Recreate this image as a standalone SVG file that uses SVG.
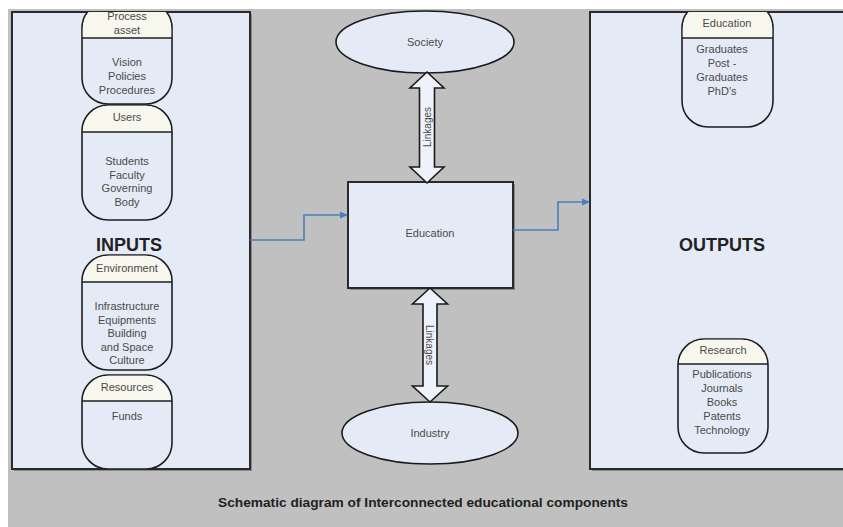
<svg xmlns="http://www.w3.org/2000/svg" width="843" height="527" viewBox="0 0 843 527">
<defs>
<style>
.box{fill:#e5ebf6;stroke:#2a2a2a;stroke-width:2}
.shadow{fill:#8a8a8a}
.pill{fill:#e5ebf6;stroke:#1e1e1e;stroke-width:1.6}
.hdr{fill:#f7f7ee;stroke:none}
.hl{stroke:#1e1e1e;stroke-width:1.6}
.t{font-family:"Liberation Sans",Arial,sans-serif;font-size:11px;fill:#4a4a4a;text-anchor:middle}
.big{font-family:"Liberation Sans",Arial,sans-serif;font-size:18px;font-weight:bold;fill:#222;text-anchor:middle}
.cap{font-family:"Liberation Sans",Arial,sans-serif;font-size:12.5px;font-weight:bold;fill:#222;text-anchor:middle}
.conn{fill:none;stroke:#4a7ebb;stroke-width:1.6}
.dbl{fill:#eef2fa;stroke:#1a1a1a;stroke-width:1.6}
.ell{fill:#e5ebf6;stroke:#1a1a1a;stroke-width:1.6}
</style>
<marker id="ah" markerWidth="8" markerHeight="8" refX="7" refY="4" orient="auto" markerUnits="userSpaceOnUse">
<path d="M0,0.5 L8,4 L0,7.5 Z" fill="#4a7ebb"/>
</marker>
<clipPath id="clipL"><rect x="12" y="12" width="238" height="457"/></clipPath>
<clipPath id="clipR"><rect x="590" y="12" width="260" height="457"/></clipPath>
</defs>
<rect x="0" y="0" width="843" height="527" fill="#ffffff"/>
<rect x="8" y="9" width="835" height="518" fill="#c0c0c0"/>

<g id="inputs">
<rect class="shadow" x="14" y="14" width="238" height="457"/>
<rect class="box" x="12" y="12" width="238" height="457"/>
<text class="big" x="129" y="251">INPUTS</text>
</g>

<g id="outputs">
<rect class="shadow" x="592" y="14" width="260" height="457"/>
<rect class="box" x="590" y="12" width="260" height="457"/>
<text class="big" x="722" y="251">OUTPUTS</text>
</g>

<g clip-path="url(#clipL)">
<g id="process-asset">
<rect class="pill" x="82" y="2" width="90" height="102" rx="26"/>
<path class="hdr" d="M82.8,38 V28 A26,26 0 0 1 108,2.8 H146 A26,26 0 0 1 171.2,28 V38 Z"/>
<line class="hl" x1="82" y1="38" x2="172" y2="38"/>
<text class="t" x="127" y="20">Process</text>
<text class="t" x="127" y="34">asset</text>
<text class="t" x="127" y="66">Vision</text>
<text class="t" x="127" y="80">Policies</text>
<text class="t" x="127" y="94">Procedures</text>
</g>
<g id="users">
<rect class="pill" x="82" y="105" width="90" height="115" rx="26"/>
<path class="hdr" d="M82.8,132 V131 A26,26 0 0 1 108,105.8 H146 A26,26 0 0 1 171.2,131 V132 Z"/>
<line class="hl" x1="82" y1="132" x2="172" y2="132"/>
<text class="t" x="127" y="121">Users</text>
<text class="t" x="127" y="165">Students</text>
<text class="t" x="127" y="178.5">Faculty</text>
<text class="t" x="127" y="192">Governing</text>
<text class="t" x="127" y="205.5">Body</text>
</g>
<g id="environment">
<rect class="pill" x="82" y="255" width="90" height="115" rx="26"/>
<path class="hdr" d="M82.8,282 V281 A26,26 0 0 1 108,255.8 H146 A26,26 0 0 1 171.2,281 V282 Z"/>
<line class="hl" x1="82" y1="282" x2="172" y2="282"/>
<text class="t" x="127" y="272">Environment</text>
<text class="t" x="127" y="310">Infrastructure</text>
<text class="t" x="127" y="323.5">Equipments</text>
<text class="t" x="127" y="337">Building</text>
<text class="t" x="127" y="350.5">and Space</text>
<text class="t" x="127" y="364">Culture</text>
</g>
<g id="resources">
<rect class="pill" x="82" y="375" width="90" height="94" rx="26"/>
<path class="hdr" d="M82.8,401 V401 A26,26 0 0 1 108,375.8 H146 A26,26 0 0 1 171.2,401 V401 Z"/>
<line class="hl" x1="82" y1="401" x2="172" y2="401"/>
<text class="t" x="127" y="391">Resources</text>
<text class="t" x="127" y="420">Funds</text>
</g>
</g>

<g clip-path="url(#clipR)">
<g id="education-out">
<rect class="pill" x="682" y="2" width="91" height="125" rx="26"/>
<path class="hdr" d="M682.8,38 V28 A26,26 0 0 1 708,2.8 H747 A26,26 0 0 1 772.2,28 V38 Z"/>
<line class="hl" x1="682" y1="38" x2="773" y2="38"/>
<text class="t" x="727" y="27">Education</text>
<text class="t" x="722" y="53">Graduates</text>
<text class="t" x="722" y="67">Post -</text>
<text class="t" x="722" y="81">Graduates</text>
<text class="t" x="722" y="95">PhD's</text>
</g>
<g id="research">
<rect class="pill" x="678" y="339" width="90" height="114" rx="26"/>
<path class="hdr" d="M678.8,364 V365 A26,26 0 0 1 704,339.8 H742 A26,26 0 0 1 767.2,365 V364 Z"/>
<line class="hl" x1="678" y1="364" x2="768" y2="364"/>
<text class="t" x="723" y="354">Research</text>
<text class="t" x="722" y="378">Publications</text>
<text class="t" x="722" y="392">Journals</text>
<text class="t" x="722" y="406">Books</text>
<text class="t" x="722" y="420">Patents</text>
<text class="t" x="722" y="434">Technology</text>
</g>
</g>

<g id="society">
<ellipse class="ell" cx="425" cy="42" rx="89" ry="31"/>
<text class="t" x="425" y="46">Society</text>
</g>

<g id="education">
<rect class="shadow" x="350" y="184" width="165" height="106"/>
<rect class="box" x="348" y="182" width="165" height="106"/>
<text class="t" x="430" y="237">Education</text>
</g>

<g id="industry">
<ellipse class="ell" cx="430" cy="433" rx="88" ry="31"/>
<text class="t" x="430" y="437">Industry</text>
</g>

<g id="connectors">
<polygon class="dbl" points="427,72 444,88 434.5,88 434.5,167 444,167 427,183 410,167 419.5,167 419.5,88 410,88"/>
<text class="t" transform="translate(427,127) rotate(-90)" y="4" style="font-size:10px">Linkages</text>
<polygon class="dbl" points="430,288 447.5,304 437,304 437,386 447.5,386 430,402 412.5,386 423,386 423,304 412.5,304"/>
<text class="t" transform="translate(430,345) rotate(90)" y="4" style="font-size:10px">Linkages</text>
<path class="conn" d="M250,240 H304 V215 H347" marker-end="url(#ah)"/>
<path class="conn" d="M513,230 H558 V202 H589" marker-end="url(#ah)"/>
</g>

<text class="cap" x="423" y="507" textLength="410" lengthAdjust="spacingAndGlyphs">Schematic diagram of Interconnected educational components</text>
</svg>
